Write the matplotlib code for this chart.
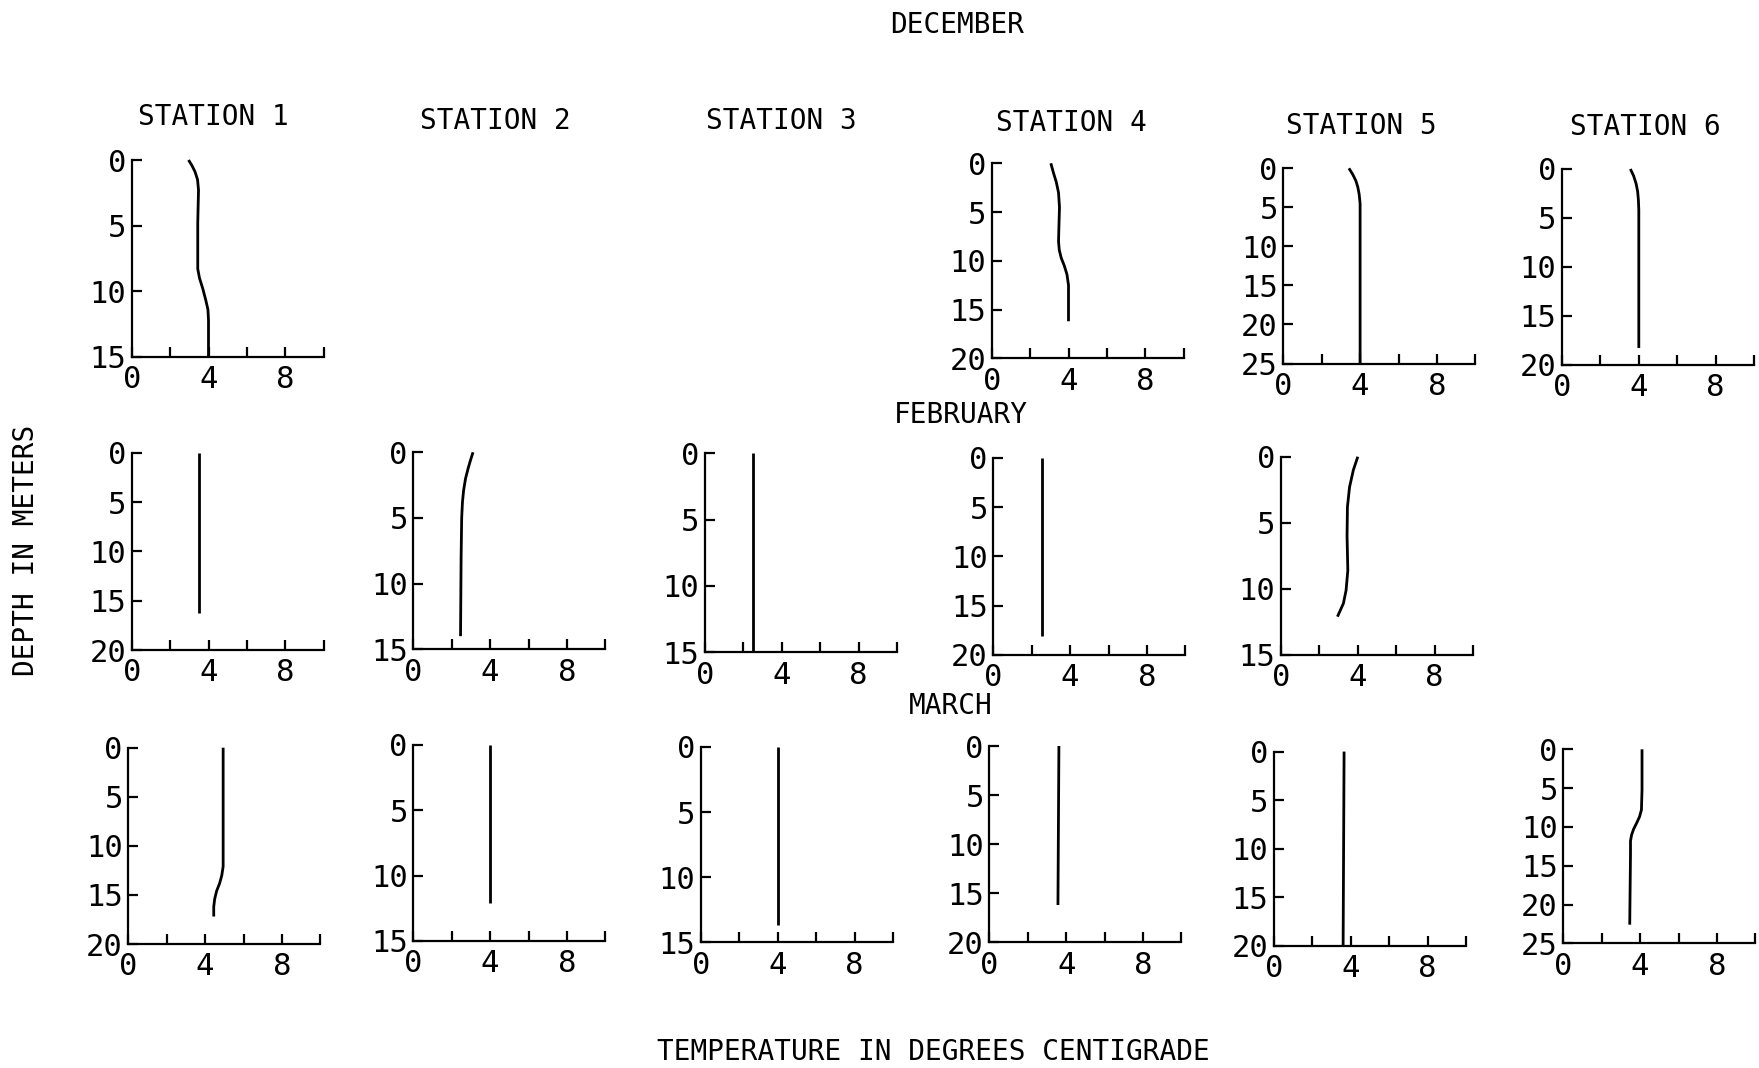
import matplotlib
matplotlib.use("Agg")
import matplotlib.pyplot as plt

W, H = 1759, 1068
DPI = 100

plt.rcParams["font.family"] = ["DejaVu Sans Mono"]

# ---- temperature profiles: depth (m) and temperature (deg C) ----
dec1_depth = [0, 0.4, 0.9, 1.5, 2.3, 4.8, 8.3, 9.0, 9.8, 10.7, 11.4, 12.2, 15]
dec1_temp = [2.96, 3.13, 3.30, 3.43, 3.48, 3.44, 3.44, 3.53, 3.70, 3.86, 3.97, 4.0, 4.0]
dec4_depth = [0, 1.0, 1.9, 3.0, 4.5, 8.0, 8.9, 9.7, 10.5, 11.4, 12.5, 16.2]
dec4_temp = [3.08, 3.22, 3.36, 3.48, 3.53, 3.48, 3.52, 3.62, 3.78, 3.92, 4.0, 4.0]
dec5_depth = [0, 0.8, 1.6, 2.4, 3.3, 4.5, 25]
dec5_temp = [3.42, 3.62, 3.78, 3.88, 3.95, 4.0, 4.0]
dec6_depth = [0, 0.7, 1.5, 2.3, 3.2, 4.2, 18.3]
dec6_temp = [3.56, 3.73, 3.86, 3.94, 3.98, 4.0, 4.0]

feb1_depth = [0, 16.2]
feb1_temp = [3.5, 3.5]
feb2_depth = [0, 0.6, 1.2, 2.0, 2.9, 3.8, 5.0, 8.0, 14.0]
feb2_temp = [3.11, 2.98, 2.86, 2.72, 2.62, 2.56, 2.52, 2.49, 2.46]
feb3_depth = [0, 15]
feb3_temp = [2.5, 2.5]
feb4_depth = [0, 18.1]
feb4_temp = [2.52, 2.52]
feb5_depth = [0, 1.0, 2.3, 3.8, 6.0, 8.6, 10.1, 11.1, 12.1]
feb5_temp = [4.0, 3.77, 3.57, 3.46, 3.44, 3.48, 3.39, 3.25, 2.94]

mar1_depth = [0, 12.1, 13.0, 13.8, 14.6, 15.4, 16.2, 17.2]
mar1_temp = [4.94, 4.94, 4.87, 4.76, 4.60, 4.50, 4.45, 4.45]
mar2_depth = [0, 12.1]
mar2_temp = [4.0, 4.0]
mar3_depth = [0, 13.7]
mar3_temp = [4.0, 4.0]
mar4_depth = [0, 16.2]
mar4_temp = [3.62, 3.57]
mar5_depth = [0, 20]
mar5_temp = [3.65, 3.6]
mar6_depth = [0, 5.2, 7.8, 8.7, 9.5, 10.3, 11.0, 11.8, 13.4, 22.6]
mar6_temp = [4.1, 4.1, 4.07, 3.97, 3.82, 3.66, 3.56, 3.5, 3.5, 3.46]

# maximum depth shown on each panel's axis
dec_max_depth = {1: 15, 4: 20, 5: 25, 6: 20}
feb_max_depth = {1: 20, 2: 15, 3: 15, 4: 20, 5: 15}
mar_max_depth = {1: 20, 2: 15, 3: 15, 4: 20, 5: 20, 6: 25}

temp_ticks = [0, 2, 4, 6, 8, 10]
temp_tick_labels = ["0", "", "4", "", "8", ""]

month_titles = ["DECEMBER", "FEBRUARY", "MARCH"]
station_titles = ["STATION 1", "STATION 2", "STATION 3",
                  "STATION 4", "STATION 5", "STATION 6"]

profiles = {
    ("dec", 1): (dec1_depth, dec1_temp), ("dec", 4): (dec4_depth, dec4_temp),
    ("dec", 5): (dec5_depth, dec5_temp), ("dec", 6): (dec6_depth, dec6_temp),
    ("feb", 1): (feb1_depth, feb1_temp), ("feb", 2): (feb2_depth, feb2_temp),
    ("feb", 3): (feb3_depth, feb3_temp), ("feb", 4): (feb4_depth, feb4_temp),
    ("feb", 5): (feb5_depth, feb5_temp),
    ("mar", 1): (mar1_depth, mar1_temp), ("mar", 2): (mar2_depth, mar2_temp),
    ("mar", 3): (mar3_depth, mar3_temp), ("mar", 4): (mar4_depth, mar4_temp),
    ("mar", 5): (mar5_depth, mar5_temp), ("mar", 6): (mar6_depth, mar6_temp),
}
max_depths = {("dec", k): v for k, v in dec_max_depth.items()}
max_depths.update({("feb", k): v for k, v in feb_max_depth.items()})
max_depths.update({("mar", k): v for k, v in mar_max_depth.items()})

# ---- panel layout in pixels: left, top, bottom ----
PANEL_W = 192
layout = {
    ("dec", 1): (131.7, 160.0, 356.7), ("dec", 4): (991.7, 163.3, 358.3),
    ("dec", 5): (1283.3, 168.3, 363.5), ("dec", 6): (1562.0, 169.0, 364.6),
    ("feb", 1): (131.7, 452.7, 650.0), ("feb", 2): (413.3, 452.3, 649.3),
    ("feb", 3): (705.0, 453.3, 652.3), ("feb", 4): (993.3, 457.7, 655.0),
    ("feb", 5): (1281.0, 456.7, 655.0),
    ("mar", 1): (128.3, 747.7, 944.0), ("mar", 2): (413.3, 745.0, 941.0),
    ("mar", 3): (701.0, 747.0, 942.3), ("mar", 4): (989.4, 746.0, 942.3),
    ("mar", 5): (1274.0, 751.6, 945.7), ("mar", 6): (1563.3, 749.3, 943.3),
}

fig = plt.figure(figsize=(W / DPI, H / DPI), dpi=DPI)
fig.patch.set_facecolor("white")

LW = 1.6
for key, (left, top, bottom) in layout.items():
    ax = fig.add_axes([left / W, 1 - bottom / H, PANEL_W / W, (bottom - top) / H])
    depth, temp = profiles[key]
    dmax = max_depths[key]
    ax.plot(temp, depth, color="black", lw=2.0, clip_on=False,
            solid_capstyle="butt")
    ax.set_xlim(0, 10)
    ax.set_ylim(dmax, 0)
    ax.set_xticks(temp_ticks)
    ax.set_xticklabels(temp_tick_labels)
    ax.set_yticks(list(range(0, dmax + 1, 5)))
    for side in ("top", "right"):
        ax.spines[side].set_visible(False)
    for side in ("left", "bottom"):
        ax.spines[side].set_linewidth(LW)
        ax.spines[side].set_color("black")
    ax.tick_params(direction="in", length=7, width=LW, labelsize=22,
                   colors="black")
    ax.tick_params(axis="x", pad=6)
    ax.tick_params(axis="y", pad=4)
    ax.patch.set_alpha(0)

# ---- titles and axis labels ----
fig.text(957 / W, 1 - 25 / H, month_titles[0], ha="center", va="center", fontsize=20)
fig.text(961 / W, 1 - 415 / H, month_titles[1], ha="center", va="center", fontsize=20)
fig.text(951 / W, 1 - 706 / H, month_titles[2], ha="center", va="center", fontsize=20)

station_pos = [(213, 117), (495, 121), (781, 121), (1071, 123), (1361, 126), (1645, 127)]
for title, (x, y) in zip(station_titles, station_pos):
    fig.text(x / W, 1 - y / H, title, ha="center", va="center", fontsize=20)

fig.text(26 / W, 1 - 550 / H, "DEPTH IN METERS", rotation=90,
         ha="center", va="center", fontsize=20)
fig.text(933 / W, 1 - 1052 / H, "TEMPERATURE IN DEGREES CENTIGRADE",
         ha="center", va="center", fontsize=20)

fig.savefig("out.png", dpi=DPI, facecolor="white")
